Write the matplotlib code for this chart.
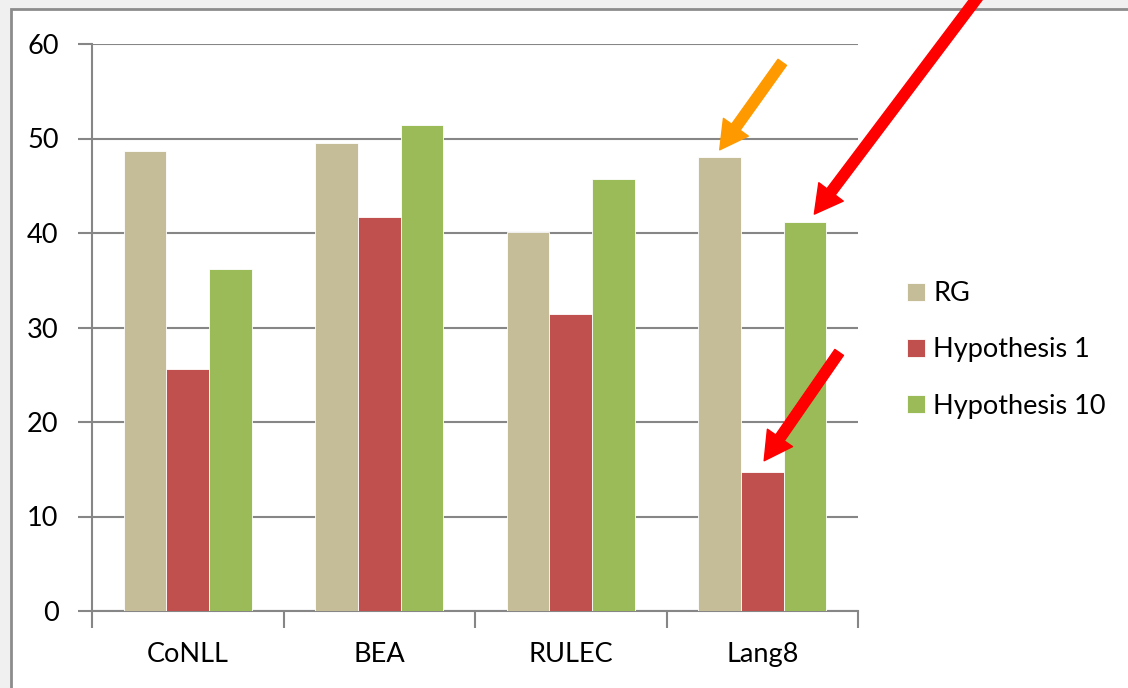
import numpy as np
import matplotlib
matplotlib.use("Agg")
import matplotlib.pyplot as plt
from matplotlib.patches import Rectangle

categories = ["CoNLL", "BEA", "RULEC", "Lang8"]
series_names = ["RG", "Hypothesis 1", "Hypothesis 10"]
rg = [48.7, 49.5, 40.1, 48.0]
hyp1 = [25.6, 41.7, 31.4, 14.7]
hyp10 = [36.2, 51.4, 45.7, 41.2]
colors = ["#C4BD97", "#C0504D", "#9BBB59"]

plt.rcParams["font.family"] = ["Lato", "DejaVu Sans"]
fs = 19.5

fig = plt.figure(figsize=(11.28, 6.88), dpi=100, facecolor="#f0f0f0")
# white chart area with gray border (like the Excel chart frame)
fig.patches.append(Rectangle((11 / 1128, -0.1), 1.2, 1.1 - 9 / 688,
                             transform=fig.transFigure, facecolor="white",
                             edgecolor="#8c8c8c", linewidth=2, zorder=-1))

ax = fig.add_axes([92 / 1128, 77 / 688, 766 / 1128, 567 / 688])
ax.set_facecolor("white")

x = np.arange(len(categories))
w = 0.222
for i, (vals, name) in enumerate(zip([rg, hyp1, hyp10], series_names)):
    ax.bar(x + (i - 1) * w, vals, w, color=colors[i], label=name,
           edgecolor="#ffffff", linewidth=0.6, zorder=3)

ax.set_xlim(-0.5, len(categories) - 0.5)
ax.set_ylim(0, 60)
ax.set_yticks(range(0, 61, 10))
ax.yaxis.grid(True, color="#868686", linewidth=1.5, zorder=0)
ax.set_axisbelow(True)

for s in ["top", "right"]:
    ax.spines[s].set_visible(False)
for s in ["left", "bottom"]:
    ax.spines[s].set_color("#868686")
    ax.spines[s].set_linewidth(1.5)

# category labels at centres, tick marks at boundaries
ax.set_xticks(x)
ax.set_xticklabels(categories)
ax.tick_params(axis="x", length=0, pad=22, labelsize=fs)
ax.set_xticks(np.arange(-0.5, len(categories)), minor=True)
ax.tick_params(axis="x", which="minor", length=12, width=1.5, color="#868686")
ax.tick_params(axis="y", length=10, width=1.5, color="#868686", pad=14, labelsize=fs)

leg = fig.legend(loc="center left", bbox_to_anchor=(907 / 1128, 1 - 350 / 688),
                 frameon=False, fontsize=fs, handlelength=0.67, handleheight=0.67,
                 handletextpad=0.3, labelspacing=1.15, borderpad=0, borderaxespad=0)

arrow = "simple,head_width=2.2,head_length=2.0,tail_width=0.75"
ax.annotate("", xy=(3 - w, rg[3] + 0.8), xytext=(45, 63), textcoords="offset points",
            arrowprops=dict(arrowstyle=arrow, color="#FF9900", mutation_scale=10,
                            shrinkA=0, shrinkB=0), annotation_clip=False)
ax.annotate("", xy=(3 + w + 0.05, hyp10[3] + 0.8), xytext=(122, 162), textcoords="offset points",
            arrowprops=dict(arrowstyle=arrow, color="#FF0000", mutation_scale=10,
                            shrinkA=0, shrinkB=0), annotation_clip=False)
ax.annotate("", xy=(3 + 0.01, hyp1[3] + 1.2), xytext=(54, 78), textcoords="offset points",
            arrowprops=dict(arrowstyle=arrow, color="#FF0000", mutation_scale=10,
                            shrinkA=0, shrinkB=0), annotation_clip=False)

fig.savefig("out.png", dpi=100, facecolor=fig.get_facecolor())
